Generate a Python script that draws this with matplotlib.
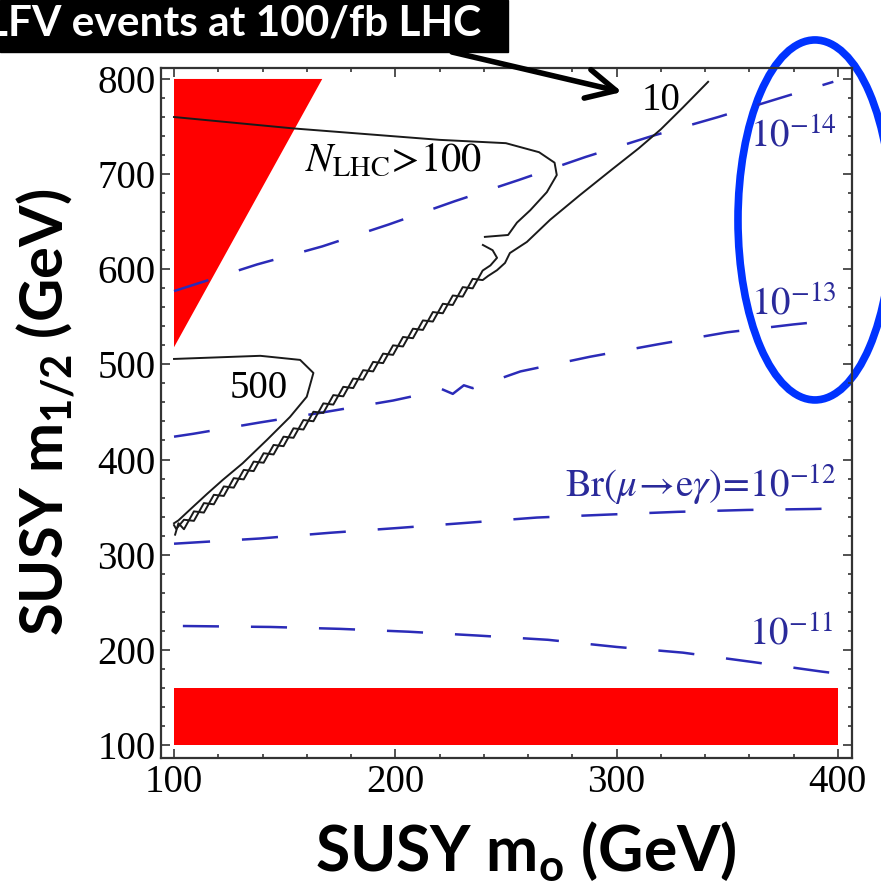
import matplotlib.pyplot as plt
from matplotlib.patches import Polygon, Rectangle, Ellipse
from matplotlib.ticker import MultipleLocator

# tick values
m0_ticks = [100, 200, 300, 400]
m12_ticks = [100, 200, 300, 400, 500, 600, 700, 800]

# red excluded regions
tri_m0 = [100, 167, 100]
tri_m12 = [800, 800, 518]
band_m0 = [100, 400]
band_m12 = [100, 160]

# Br(mu -> e gamma) contours (blue dashed)
br11_m0 = [104, 143.5, 175, 206, 237, 269, 300, 330, 362, 393, 400]
br11_m12 = [225, 224, 222, 219, 215, 210.5, 203, 197, 187, 177, 175]
br12_m0 = [100, 139, 170.6, 201, 232.6, 264, 295, 327.6, 359, 389, 398]
br12_m12 = [311.5, 317, 323, 328, 333.5, 339, 342, 345, 347, 348, 348.5]
br13_m0 = [100, 108.6, 139, 166, 199, 215, 221, 226, 231, 235, 256.6, 288, 318.5, 350, 380, 397]
br13_m12 = [424, 427, 439, 449, 462, 470, 474, 469, 478, 475, 492.6, 508, 521, 533.7, 542, 546]
br14_m0 = [100, 137.5, 167, 197, 227, 255.7, 286, 316, 346, 374, 398]
br14_m12 = [577, 605, 624, 647, 671.6, 693.7, 718, 740, 760, 780, 797]

# N_LHC contours (black)
n10_m0 = [100.5, 102, 104.5, 109, 113.5, 118, 122.5, 127, 131.5, 136, 140.5, 145, 149.5,
          154, 158.5, 163, 167.5, 172, 176.5, 181, 185.5, 190, 194.5, 199, 203.5, 208,
          212.5, 217, 221.5, 226, 230.5, 235, 239.5, 242, 246, 249.6, 251.8, 259.5, 270,
          283.5, 298, 310, 320, 330, 341.4]
n10_m12 = [321, 333, 326.7, 345.5, 344.2, 362.9, 361.7, 380.4, 379.1, 397.8, 396.6, 415.3, 414,
           432.8, 431.5, 450.2, 449, 467.7, 466.4, 485.1, 483.9, 502.6, 501.3, 520, 518.8, 537.5,
           536.2, 555, 553.7, 572.4, 571.2, 589.9, 588.6, 593, 599, 606.6, 617, 628.7, 652,
           678, 705, 727, 747, 770, 797]

n100_m0 = [100, 154, 220, 250, 265, 272, 273, 268.5, 261, 255, 251, 240.5]
n100_m12 = [760, 748, 736, 732.5, 723, 712, 699, 681, 662, 649, 636, 634]
n100b_m0 = [239.6, 244, 246, 243, 239.5, 235, 230.5, 226, 221.5, 217, 212.5, 208, 203.5,
            199, 194.5, 190, 185.5, 181, 176.5, 172, 167.5, 163, 158.5, 154, 149.5, 145,
            140.5, 136, 131.5, 127, 122.5, 118, 113.5, 109, 104.5, 101, 100]
n100b_m12 = [625.5, 620, 612, 604, 598.6, 579.9, 581.2, 562.4, 563.7, 545, 546.2, 527.5, 528.8,
             510, 511.3, 492.6, 493.9, 475.1, 476.4, 457.7, 459, 440.2, 441.5, 422.8, 424, 405.3,
             406.6, 387.8, 389.1, 370.4, 371.7, 352.9, 354.2, 335.5, 336.7, 327, 331]

n500_m0 = [100, 139, 157, 163, 160, 152.4, 142, 131, 122, 115, 108, 102, 100]
n500_m12 = [505.7, 509, 504.7, 491, 466, 444.7, 420.6, 396, 378.5, 364, 349, 336, 333]

blue = '#2b2bb8'
text_blue = '#2a2a9a'

plt.rcParams['font.family'] = 'Liberation Serif'
plt.rcParams['lines.scale_dashes'] = False

fig = plt.figure(figsize=(8.81, 8.89), dpi=100)
ax = fig.add_axes([0.1827, 0.1474, 0.7843, 0.7762])

ax.add_patch(Polygon(list(zip(tri_m0, tri_m12)), closed=True, color='#ff0000', lw=0))
ax.add_patch(Rectangle((band_m0[0], band_m12[0]), band_m0[1] - band_m0[0],
                       band_m12[1] - band_m12[0], color='#ff0000', lw=0))

for xs, ys in [(br11_m0, br11_m12), (br12_m0, br12_m12), (br13_m0, br13_m12), (br14_m0, br14_m12)]:
    ax.plot(xs, ys, color=blue, lw=1.8, dashes=(26, 23))

for xs, ys in [(n10_m0, n10_m12), (n100_m0, n100_m12), (n100b_m0, n100b_m12), (n500_m0, n500_m12)]:
    ax.plot(xs, ys, color='#1a1a1a', lw=1.4)

# contour labels
ax.text(311.5, 767.5, '10', fontsize=28, va='baseline')
ax.text(125.3, 464.7, '500', fontsize=28, va='baseline')
ax.text(159, 704, r'$N_{\mathrm{LHC}}\!>\!100$', fontsize=29, va='baseline', math_fontfamily='stix')
ax.text(399.6, 728.6, r'$10^{-14}$', fontsize=28, color=text_blue, ha='right', va='baseline',
        math_fontfamily='stix')
ax.text(399.6, 552, r'$10^{-13}$', fontsize=28, color=text_blue, ha='right', va='baseline',
        math_fontfamily='stix')
ax.text(399.6, 359.6, r'$\mathrm{Br}(\mu\!\rightarrow\!\mathrm{e}\gamma)\!=\!10^{-12}$', fontsize=28,
        color=text_blue, ha='right', va='baseline', math_fontfamily='stix')
ax.text(398, 205, r'$10^{-11}$', fontsize=28, color=text_blue, ha='right', va='baseline',
        math_fontfamily='stix')

ax.set_xlim(94.1, 406.4)
ax.set_ylim(86.3, 811.6)
ax.set_xticks(m0_ticks)
ax.set_yticks(m12_ticks)
ax.xaxis.set_minor_locator(MultipleLocator(20))
ax.yaxis.set_minor_locator(MultipleLocator(20))
ax.tick_params(which='both', direction='in', top=True, right=True, width=1.2, color='#333333')
ax.tick_params(which='major', length=6.5, labelsize=28, pad=4)
ax.tick_params(which='minor', length=3)
for s in ax.spines.values():
    s.set_linewidth(1.6)
    s.set_color('#333333')

fig.text(526 / 881, 1 - 872 / 889, r'SUSY m$_\mathregular{o}$ (GeV)', family='Lato',
         fontweight='bold', fontsize=45, ha='center', va='baseline')
fig.text(46 / 881, 1 - 412 / 889, r'SUSY m$_\mathregular{1/2}$ (GeV)', family='Lato',
         fontweight='bold', fontsize=43, ha='center', va='center', rotation=90)

# callout box and arrow
fig.add_artist(Rectangle((0, 1 - 52 / 889), 508 / 881, 52 / 889, transform=fig.transFigure,
                         color='black'))
fig.text(481 / 881, 1 - 36 / 889, 'LFV events at 100/fb LHC', color='white', family='Lato',
         fontweight='bold', fontsize=30.5, ha='right', va='baseline')
ax.annotate('', xy=(622, 797), xytext=(452, 837), xycoords='figure pixels',
            textcoords='figure pixels', annotation_clip=False,
            arrowprops=dict(arrowstyle='->,head_length=1.4,head_width=0.7', lw=4,
                            color='black', mutation_scale=15, shrinkA=0, shrinkB=0))

# highlight ellipse (data coordinates of the plot, allowed to spill outside)
ax.add_patch(Ellipse((389.7, 651.8), 69.6, 378.4, fill=False, ec='#0033ff', lw=5.5, clip_on=False))

fig.savefig('out.png', dpi=100)
